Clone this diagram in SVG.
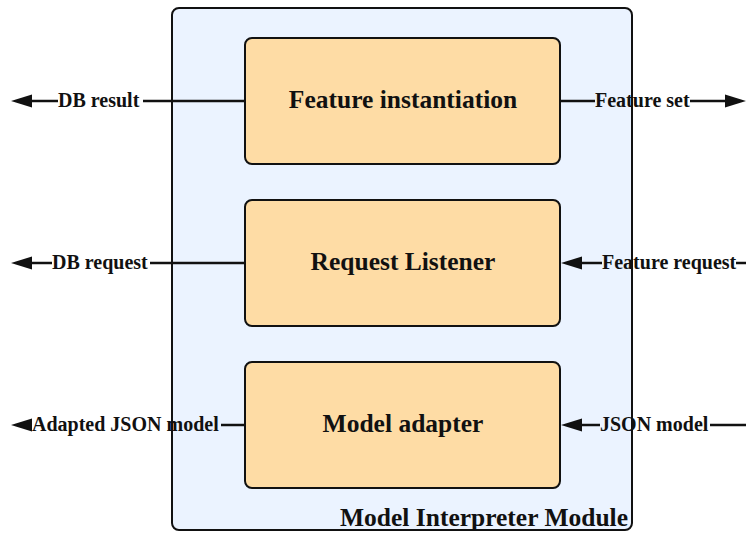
<svg xmlns="http://www.w3.org/2000/svg" width="756" height="533" viewBox="0 0 756 533">
  <style>
    .module { fill: #EBF3FF; stroke: #111; stroke-width: 2; }
    .block { fill: #FEDCA5; stroke: #111; stroke-width: 2; }
    .block-text { font-family: "Liberation Serif", "Times New Roman", serif; font-weight: bold; font-size: 25.5px; fill: #111; text-anchor: middle; }
    .title { font-family: "Liberation Serif", "Times New Roman", serif; font-weight: bold; font-size: 25.5px; fill: #111; text-anchor: end; }
    .label { font-family: "Liberation Serif", "Times New Roman", serif; font-weight: bold; font-size: 20px; fill: #111; }
    .wire { stroke: #111; stroke-width: 2.5; fill: none; }
    .head { fill: #111; }
  </style>

  <!-- outer module container -->
  <g id="module">
    <rect class="module" x="172" y="8" width="460" height="522" rx="7"/>
    <text class="title" x="628" y="526">Model Interpreter Module</text>
  </g>

  <!-- functional blocks -->
  <g id="feature-instantiation">
    <rect class="block" x="245" y="38" width="315" height="126" rx="7"/>
    <text class="block-text" x="403" y="108">Feature instantiation</text>
  </g>
  <g id="request-listener">
    <rect class="block" x="245" y="200" width="315" height="126" rx="7"/>
    <text class="block-text" x="403" y="270">Request Listener</text>
  </g>
  <g id="model-adapter">
    <rect class="block" x="245" y="362" width="315" height="126" rx="7"/>
    <text class="block-text" x="403" y="432">Model adapter</text>
  </g>

  <!-- connectors with inline labels -->
  <g id="connectors">
    <!-- DB result (out, left) -->
    <line class="wire" x1="143" y1="101" x2="245" y2="101"/>
    <line class="wire" x1="30" y1="101" x2="58" y2="101"/>
    <polygon class="head" points="11,101 32,94.5 32,107.5"/>
    <text class="label" x="58" y="107">DB result</text>

    <!-- Feature set (out, right) -->
    <line class="wire" x1="560" y1="101" x2="595" y2="101"/>
    <line class="wire" x1="690" y1="101" x2="728" y2="101"/>
    <polygon class="head" points="746,101 725,94.5 725,107.5"/>
    <text class="label" x="595" y="107">Feature set</text>

    <!-- DB request (out, left) -->
    <line class="wire" x1="150" y1="263" x2="245" y2="263"/>
    <line class="wire" x1="30" y1="263" x2="52" y2="263"/>
    <polygon class="head" points="11,263 32,256.5 32,269.5"/>
    <text class="label" x="52" y="269">DB request</text>

    <!-- Feature request (in, right) -->
    <line class="wire" x1="736" y1="263" x2="746" y2="263"/>
    <line class="wire" x1="580" y1="263" x2="602" y2="263"/>
    <polygon class="head" points="561,263 582,256.5 582,269.5"/>
    <text class="label" x="602" y="269">Feature request</text>

    <!-- Adapted JSON model (out, left) -->
    <line class="wire" x1="221" y1="425" x2="245" y2="425"/>
    <polygon class="head" points="11,425 32,418.5 32,431.5"/>
    <text class="label" x="32" y="431">Adapted JSON model</text>

    <!-- JSON model (in, right) -->
    <line class="wire" x1="710" y1="425" x2="746" y2="425"/>
    <line class="wire" x1="580" y1="425" x2="600" y2="425"/>
    <polygon class="head" points="561,425 582,418.5 582,431.5"/>
    <text class="label" x="600" y="431">JSON model</text>
  </g>
</svg>
